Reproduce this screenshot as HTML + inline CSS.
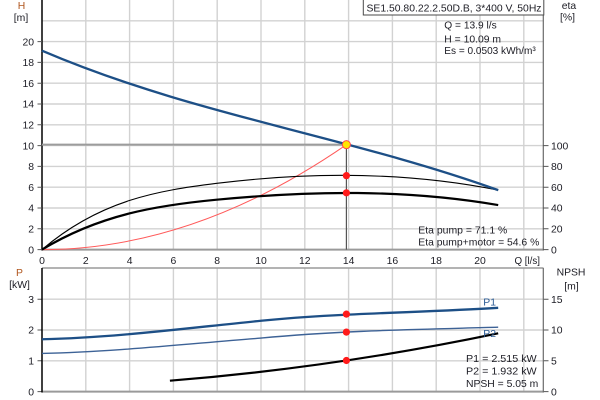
<!DOCTYPE html>
<html><head><meta charset="utf-8"><style>
html,body{margin:0;padding:0;background:#fff;}
svg{display:block;}
text{font-family:"Liberation Sans",Arial,sans-serif;font-size:10.4px;fill:#1c1c24;}
.ttl{fill:#b0561e;}
</style></head><body>
<svg width="600" height="400" viewBox="0 0 600 400" xmlns="http://www.w3.org/2000/svg">
<rect width="600" height="400" fill="#fff"/>
<!-- grid top -->
<g stroke="#d2d2d2" stroke-width="1.4" fill="none">
<path d="M85.8 0V249.6M129.6 0V249.6M173.4 0V249.6M217.2 0V249.6M261 0V249.6M304.8 0V249.6M348.6 0V249.6M392.4 0V249.6M436.2 0V249.6M480 0V249.6M523.8 0V249.6"/>
<path d="M42 228.8H543M42 208H543M42 187.2H543M42 166.4H543M42 145.6H543M42 124.8H543M42 104H543M42 83.2H543M42 62.4H543M42 41.6H543M42 20.8H543"/>
<path d="M85.8 268V391.6M129.6 268V391.6M173.4 268V391.6M217.2 268V391.6M261 268V391.6M304.8 268V391.6M348.6 268V391.6M392.4 268V391.6M436.2 268V391.6M480 268V391.6M523.8 268V391.6"/>
<path d="M42 360.8H543M42 330H543M42 299.2H543"/>
</g>
<!-- axes top -->
<line x1="42" y1="249.6" x2="543.5" y2="249.6" stroke="#9a9a9a" stroke-width="2"/>
<line x1="42" y1="0" x2="42" y2="250.5" stroke="#000" stroke-width="1.5"/>
<line x1="543.3" y1="0" x2="543.3" y2="250.5" stroke="#6a6a6a" stroke-width="1.2"/>
<g stroke="#555" stroke-width="1">
<path d="M37.5 249.6H42M37.5 228.8H42M37.5 208H42M37.5 187.2H42M37.5 166.4H42M37.5 145.6H42M37.5 124.8H42M37.5 104H42M37.5 83.2H42M37.5 62.4H42M37.5 41.6H42"/>
<path d="M543 249.6H548.5M543 228.8H548.5M543 208H548.5M543 187.2H548.5M543 166.4H548.5M543 145.6H548.5"/>
<path d="M37.5 391.6H42M37.5 360.8H42M37.5 330H42M37.5 299.2H42"/>
<path d="M543 391.6H548.5M543 360.8H548.5M543 330H548.5M543 299.2H548.5"/>
</g>
<!-- axes bottom -->
<line x1="42" y1="268" x2="543.5" y2="268" stroke="#9a9a9a" stroke-width="1.5"/>
<line x1="42" y1="391.6" x2="543.5" y2="391.6" stroke="#9a9a9a" stroke-width="2"/>
<line x1="42" y1="268" x2="42" y2="392.5" stroke="#000" stroke-width="1.5"/>
<line x1="543.3" y1="268" x2="543.3" y2="392.5" stroke="#6a6a6a" stroke-width="1.2"/>

<!-- operating lines -->
<line x1="42" y1="144.66" x2="346.4" y2="144.66" stroke="#9c9c9c" stroke-width="2"/>
<line x1="346.4" y1="144.66" x2="346.4" y2="249.6" stroke="#555" stroke-width="1.2"/>

<!-- system curve -->
<path d="M42 249.6Q194.2 249.6 346.4 144.66" fill="none" stroke="#ff5a5a" stroke-width="1"/>
<!-- eta pump thin -->
<path d="M42 249.6C100.25 199.89 158.5 190.55 216.76 183.35C310.56 171.77 404.36 171.4 498.2 190.11" fill="none" stroke="#000" stroke-width="1.1"/>
<!-- eta total thick -->
<path d="M42 249.6C100.25 214.24 158.5 205.21 216.76 199.68C310.56 190.77 404.36 189.05 498.2 205.09" fill="none" stroke="#000" stroke-width="2.2"/>
<!-- H curve -->
<path d="M42 50.65C194.05 115.64 346.1 135.5 498.2 190.13" fill="none" stroke="#1d4f86" stroke-width="2.3"/>

<!-- bottom curves -->
<path d="M42 339.24C115 337.7 188 327.94 261 320.76C340.06 312.97 419.12 312.81 498.18 307.82" fill="none" stroke="#1d4f86" stroke-width="2.3"/>
<path d="M42 353.41C115 351.87 188 343.74 261 338.1C340.06 330.5 419.12 329.45 498.18 327.23" fill="none" stroke="#3d6296" stroke-width="1.4"/>
<path d="M169.9 380.7C279.33 371.96 388.76 356.17 498.18 333.33" fill="none" stroke="#000" stroke-width="2.2"/>

<!-- markers -->
<circle cx="346.4" cy="144.66" r="4" fill="#ffe600" stroke="#ff4a4a" stroke-width="1"/>
<g fill="#ff1a1a">
<circle cx="346.4" cy="175.66" r="3.6"/>
<circle cx="346.4" cy="192.82" r="3.6"/>
<circle cx="346.4" cy="314.14" r="3.6"/>
<circle cx="346.4" cy="332.09" r="3.6"/>
<circle cx="346.4" cy="360.49" r="3.6"/>
</g>

<!-- left H labels -->
<g text-anchor="end">
<text x="34" y="253.3">0</text>
<text x="34" y="232.5">2</text>
<text x="34" y="211.7">4</text>
<text x="34" y="190.9">6</text>
<text x="34" y="170.1">8</text>
<text x="34" y="149.3">10</text>
<text x="34" y="128.5">12</text>
<text x="34" y="107.7">14</text>
<text x="34" y="86.9">16</text>
<text x="34" y="66.1">18</text>
<text x="34" y="45.3">20</text>
<text x="34" y="395.3">0</text>
<text x="34" y="364.5">1</text>
<text x="34" y="333.7">2</text>
<text x="34" y="302.9">3</text>
</g>
<!-- right labels -->
<g>
<text x="551" y="253.3">0</text>
<text x="551" y="232.5">20</text>
<text x="551" y="211.7">40</text>
<text x="551" y="190.9">60</text>
<text x="551" y="170.1">80</text>
<text x="551" y="149.3">100</text>
<text x="551" y="395.3">0</text>
<text x="551" y="364.5">5</text>
<text x="551" y="333.7">10</text>
<text x="551" y="302.9">15</text>
</g>
<!-- x labels -->
<g text-anchor="middle">
<text x="42" y="263.8">0</text>
<text x="85.8" y="263.8">2</text>
<text x="129.6" y="263.8">4</text>
<text x="173.4" y="263.8">6</text>
<text x="217.2" y="263.8">8</text>
<text x="261" y="263.8">10</text>
<text x="304.8" y="263.8">12</text>
<text x="348.6" y="263.8">14</text>
<text x="392.4" y="263.8">16</text>
<text x="436.2" y="263.8">18</text>
<text x="480" y="263.8">20</text>
</g>
<text x="514.5" y="263.8" textLength="25.5" lengthAdjust="spacingAndGlyphs">Q [l/s]</text>

<!-- axis titles -->
<text class="ttl" x="21.5" y="8.8" text-anchor="middle">H</text>
<text x="21" y="21" text-anchor="middle">[m]</text>
<text x="569" y="8.8" text-anchor="middle">eta</text>
<text x="567.5" y="20.5" text-anchor="middle">[%]</text>
<text class="ttl" x="19.5" y="276" text-anchor="middle">P</text>
<text x="19.5" y="288" text-anchor="middle">[kW]</text>
<text x="571" y="275.4" text-anchor="middle">NPSH</text>
<text x="571.5" y="289.4" text-anchor="middle">[m]</text>

<!-- title box -->
<rect x="363.3" y="-1" width="180.5" height="16" fill="#fff" stroke="#4a4a4a" stroke-width="1"/>
<text x="366.5" y="11.5" textLength="175" lengthAdjust="spacingAndGlyphs">SE1.50.80.22.2.50D.B, 3*400 V, 50Hz</text>

<!-- info -->
<text x="444.3" y="28.7" textLength="52.4" lengthAdjust="spacingAndGlyphs">Q = 13.9 l/s</text>
<text x="444.3" y="42.3" textLength="56.7" lengthAdjust="spacingAndGlyphs">H = 10.09 m</text>
<text x="444.3" y="54.2" textLength="91.4" lengthAdjust="spacingAndGlyphs">Es = 0.0503 kWh/m³</text>

<text x="418.3" y="233.7" textLength="89" lengthAdjust="spacingAndGlyphs">Eta pump = 71.1 %</text>
<text x="418.3" y="245.4" textLength="121" lengthAdjust="spacingAndGlyphs">Eta pump+motor = 54.6 %</text>

<text x="483.3" y="305.4" style="fill:#2a5a94">P1</text>
<text x="483.3" y="337" style="fill:#2a5a94">P2</text>

<text x="466" y="362" textLength="70.7" lengthAdjust="spacingAndGlyphs">P1 = 2.515 kW</text>
<text x="466" y="374.7" textLength="70.7" lengthAdjust="spacingAndGlyphs">P2 = 1.932 kW</text>
<text x="466" y="387" textLength="72.3" lengthAdjust="spacingAndGlyphs">NPSH = 5.05 m</text>
</svg>
</body></html>
